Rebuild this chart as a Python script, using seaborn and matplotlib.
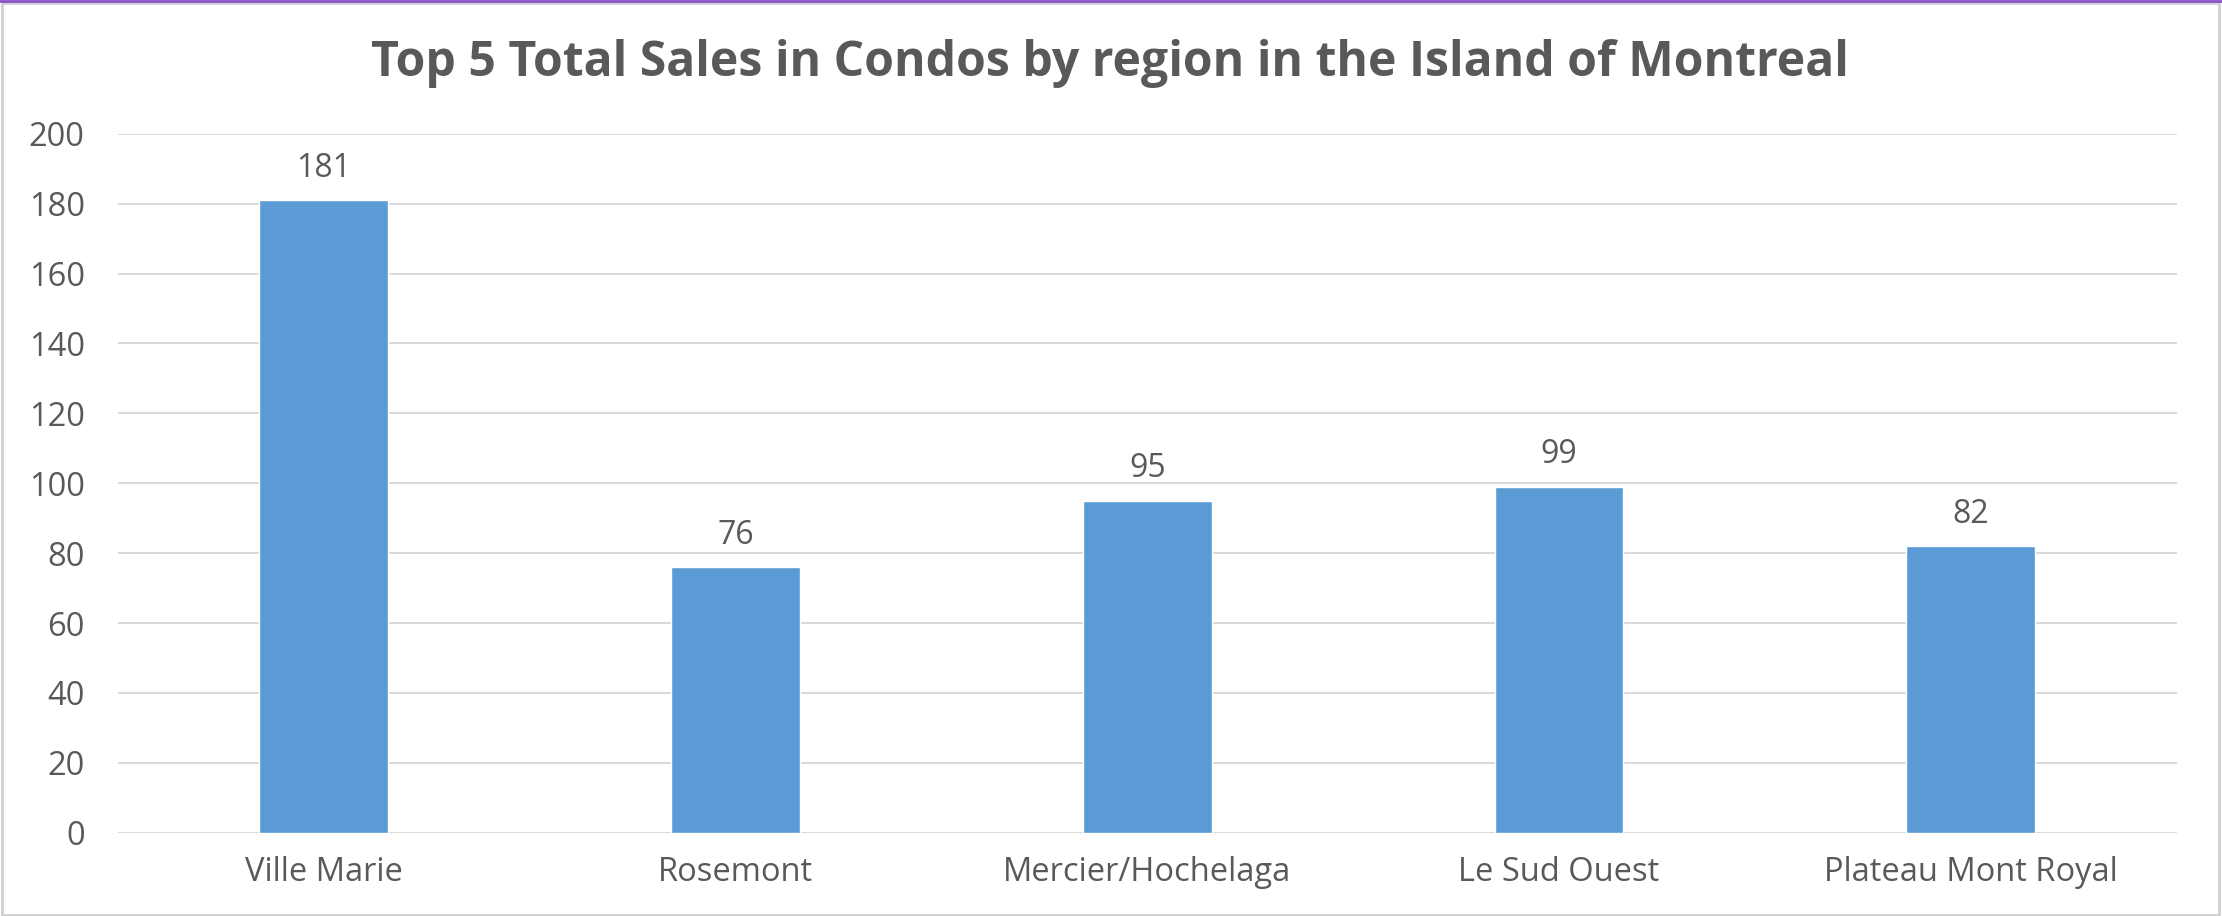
import matplotlib
matplotlib.use("Agg")
import matplotlib.pyplot as plt
import seaborn as sns
import pandas as pd
from matplotlib.patches import Rectangle
from matplotlib.lines import Line2D

regions = ["Ville Marie", "Rosemont", "Mercier/Hochelaga", "Le Sud Ouest", "Plateau Mont Royal"]
sales = [181, 76, 95, 99, 82]
y_ticks = [0, 20, 40, 60, 80, 100, 120, 140, 160, 180, 200]
title = "Top 5 Total Sales in Condos by region in the Island of Montreal"

sns.set_theme(style="white")
plt.rcParams['font.family'] = ['Open Sans', 'DejaVu Sans']

TXT = "#595959"
BAR = "#5B9BD5"
GRID = "#D9D9D9"

fig = plt.figure(figsize=(22.22, 9.16), dpi=100)
fig.patch.set_facecolor("white")
ax = fig.add_axes([118/2222, 1 - 832.7/916, 2058.5/2222, 699/916])

df = pd.DataFrame({"region": regions, "sales": sales})
sns.barplot(data=df, x="region", y="sales", color=BAR, saturation=1, width=0.313, ax=ax, zorder=3)

ax.set_ylim(0, 200)
ax.set_xlim(-0.5, len(regions) - 0.5)
ax.set_yticks(y_ticks)
ax.set_yticklabels([str(t) for t in y_ticks])
ax.yaxis.grid(True, color=GRID, linewidth=1.4, zorder=0)
ax.set_axisbelow(True)
for s in ax.spines.values():
    s.set_visible(False)
ax.tick_params(axis='y', length=0, pad=24, labelsize=23.5, labelcolor=TXT)
ax.tick_params(axis='x', length=0, pad=17, labelsize=23.5, labelcolor=TXT)
ax.set_xlabel("")
ax.set_ylabel("")

for c in ax.containers:
    ax.bar_label(c, labels=[str(v) for v in sales], padding=11, fontsize=23, color=TXT)

fig.text(1110/2222, 1 - 64/916, title, ha="center", va="center", fontsize=34.7,
         fontweight="bold", color=TXT)

# border
fig.add_artist(Rectangle((1.5/2222, 1.5/916), 2217/2222, 912/916, transform=fig.transFigure,
                         fill=False, edgecolor="#D0D0D0", linewidth=2))
fig.add_artist(Line2D([0, 1], [1 - 1/916, 1 - 1/916], transform=fig.transFigure,
                      color="#8B4FC8", linewidth=2))

fig.savefig("out.png", dpi=100)
